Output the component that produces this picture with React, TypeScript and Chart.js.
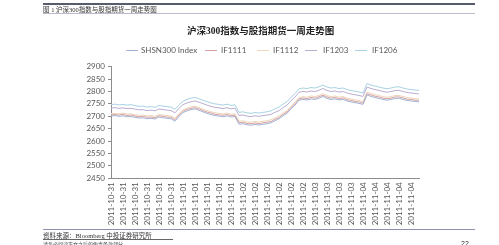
import React, { useEffect, useRef } from "react";
import { Chart, registerables } from "chart.js";

Chart.register(...registerables);

// tick labels (one every 3 points)
const tickDates = [
  "2011-10-31", "2011-10-31", "2011-10-31", "2011-10-31", "2011-10-31", "2011-10-31",
  "2011-11-01", "2011-11-01", "2011-11-01", "2011-11-01", "2011-11-01",
  "2011-11-02", "2011-11-02", "2011-11-02", "2011-11-02", "2011-11-02", "2011-11-02",
  "2011-11-03", "2011-11-03", "2011-11-03", "2011-11-03",
  "2011-11-04", "2011-11-04", "2011-11-04", "2011-11-04", "2011-11-04",
];
const pointsPerTick = 3;

const shsn300 = [
  2701, 2703, 2700, 2702, 2698, 2699, 2696, 2693, 2694, 2690, 2692, 2689, 2697, 2694, 2692, 2690,
  2680, 2700, 2715, 2722, 2727, 2730, 2724, 2718, 2712, 2707, 2703, 2701, 2698, 2702, 2697, 2699,
  2668, 2670, 2666, 2664, 2667, 2665, 2668, 2670, 2674, 2682, 2690, 2702, 2712, 2730, 2745, 2765,
  2768, 2766, 2770, 2768, 2773, 2780, 2772, 2768, 2770, 2766, 2768, 2762, 2758, 2755, 2752, 2748,
  2786, 2780, 2776, 2772, 2768, 2765, 2768, 2772, 2773, 2768, 2764, 2762, 2760, 2758,
];
const if1111 = [
  2706, 2707, 2705, 2708, 2703, 2705, 2701, 2698, 2700, 2696, 2697, 2694, 2702, 2700, 2697, 2696,
  2686, 2705, 2720, 2728, 2732, 2735, 2730, 2723, 2717, 2713, 2708, 2706, 2704, 2707, 2703, 2704,
  2674, 2676, 2671, 2670, 2673, 2670, 2674, 2676, 2679, 2688, 2695, 2708, 2717, 2736, 2750, 2770,
  2774, 2771, 2776, 2773, 2779, 2785, 2778, 2773, 2776, 2771, 2774, 2767, 2764, 2760, 2758, 2753,
  2791, 2786, 2781, 2778, 2773, 2771, 2773, 2778, 2778, 2774, 2769, 2768, 2765, 2764,
];
const if1112 = [
  2711, 2712, 2710, 2713, 2709, 2710, 2706, 2704, 2705, 2701, 2703, 2700, 2707, 2705, 2703, 2701,
  2692, 2711, 2726, 2733, 2738, 2741, 2735, 2729, 2723, 2718, 2714, 2712, 2709, 2713, 2708, 2710,
  2680, 2682, 2677, 2676, 2679, 2677, 2680, 2682, 2686, 2694, 2701, 2713, 2723, 2741, 2756, 2776,
  2779, 2777, 2782, 2779, 2785, 2791, 2784, 2779, 2782, 2777, 2780, 2773, 2770, 2766, 2764, 2759,
  2797, 2792, 2787, 2784, 2779, 2777, 2779, 2784, 2784, 2780, 2775, 2774, 2771, 2770,
];
const if1203 = [
  2733, 2735, 2732, 2734, 2731, 2732, 2729, 2726, 2727, 2723, 2725, 2722, 2730, 2727, 2725, 2723,
  2714, 2732, 2747, 2754, 2759, 2762, 2757, 2751, 2745, 2740, 2736, 2734, 2731, 2735, 2730, 2733,
  2703, 2705, 2701, 2699, 2702, 2700, 2703, 2705, 2708, 2716, 2723, 2735, 2745, 2763, 2778, 2797,
  2800, 2798, 2802, 2800, 2805, 2812, 2804, 2800, 2802, 2798, 2800, 2794, 2790, 2787, 2784, 2780,
  2818, 2812, 2808, 2804, 2800, 2797, 2800, 2804, 2805, 2800, 2796, 2794, 2792, 2790,
];
const if1206 = [
  2747, 2749, 2746, 2748, 2745, 2747, 2743, 2740, 2741, 2737, 2739, 2736, 2744, 2741, 2739, 2737,
  2728, 2746, 2761, 2768, 2773, 2776, 2771, 2765, 2759, 2754, 2750, 2748, 2745, 2749, 2744, 2746,
  2716, 2718, 2714, 2712, 2715, 2713, 2716, 2718, 2722, 2730, 2737, 2749, 2759, 2777, 2792, 2811,
  2814, 2812, 2816, 2814, 2819, 2826, 2818, 2814, 2816, 2812, 2814, 2808, 2804, 2801, 2798, 2794,
  2832, 2826, 2822, 2818, 2814, 2811, 2814, 2818, 2819, 2814, 2810, 2808, 2806, 2804,
];

const seriesNames = ["SHSN300 Index", "IF1111", "IF1112", "IF1203", "IF1206"];
const seriesColors = ["#a3b4d8", "#d6a4a2", "#ecd6bc", "#b9aed2", "#a9d2e3"];
const seriesData = [shsn300, if1111, if1112, if1203, if1206];

const yMin = 2450;
const yMax = 2900;
const yStep = 50;

const legendLineX = [126, 205, 257, 305, 355];
const legendTextX = [141, 221, 273, 323, 372];

export default function App() {
  const canvasRef = useRef<HTMLCanvasElement | null>(null);

  useEffect(() => {
    document.body.style.margin = "0";
    const canvas = canvasRef.current;
    if (!canvas) return;
    const labels = shsn300.map((_, i) =>
      i % pointsPerTick === 0 ? tickDates[i / pointsPerTick] || "" : ""
    );
    const chart = new Chart(canvas, {
      type: "line",
      data: {
        labels,
        datasets: seriesData.map((d, k) => ({
          label: seriesNames[k],
          data: d,
          borderColor: seriesColors[k],
          backgroundColor: seriesColors[k],
          borderWidth: 1,
          pointRadius: 0,
          tension: 0,
          fill: false,
        })),
      },
      options: {
        animation: false,
        responsive: false,
        maintainAspectRatio: false,
        layout: { padding: { left: 81, right: 80, top: 66.7, bottom: 6.7 } },
        plugins: {
          legend: { display: false },
          title: { display: false },
          tooltip: { enabled: false },
        },
        scales: {
          x: {
            type: "category",
            offset: false,
            grid: { display: false, drawTicks: false },
            border: { display: true, color: "#8c8c8c", width: 1 },
            ticks: {
              autoSkip: false,
              maxRotation: 90,
              minRotation: 90,
              padding: 4,
              color: "#595959",
              font: { family: "Lato, 'Liberation Sans', sans-serif", size: 8 },
            },
            afterFit: (scale: any) => {
              scale.height = 60;
            },
          },
          y: {
            min: yMin,
            max: yMax,
            grid: { drawOnChartArea: false, drawTicks: true, tickLength: 3, color: "#8c8c8c" },
            border: { display: true, color: "#8c8c8c", width: 1 },
            ticks: {
              stepSize: yStep,
              autoSkip: false,
              padding: 3,
              color: "#595959",
              font: { family: "Lato, 'Liberation Sans', sans-serif", size: 8 },
              callback: (v: any) => String(v),
            },
            afterFit: (scale: any) => {
              scale.width = 30;
            },
          },
        },
      },
    });
    return () => chart.destroy();
  }, []);

  const abs = (s: React.CSSProperties): React.CSSProperties => ({ position: "absolute", ...s });

  return (
    <div style={{ position: "relative", width: 499, height: 245, overflow: "hidden", background: "#fff" }}>
      <canvas ref={canvasRef} width={499} height={245} style={abs({ left: 0, top: 0, width: 499, height: 245 })} />
      <div style={abs({ left: 43, top: 3, width: 432, height: 2, background: "#585a6e" })} />
      <div
        style={abs({
          left: 43,
          top: 5.5,
          fontSize: 6.5,
          lineHeight: "7px",
          whiteSpace: "nowrap",
          color: "#333",
          fontFamily: "'Liberation Serif', 'Noto Sans CJK SC', serif",
        })}
      >
        图 1 沪深300指数与股指期货一周走势图
      </div>
      <div style={abs({ left: 43, top: 13, width: 432, height: 1, background: "#b9bccb" })} />
      <div
        style={abs({
          left: 187,
          top: 25,
          fontSize: 9.5,
          lineHeight: "12px",
          fontWeight: "bold",
          whiteSpace: "nowrap",
          color: "#222",
          fontFamily: "'Liberation Serif', 'Noto Sans CJK SC', serif",
        })}
      >
        沪深300指数与股指期货一周走势图
      </div>
      {seriesNames.map((n, k) => (
        <React.Fragment key={n}>
          <div style={abs({ left: legendLineX[k], top: 50, width: 12, height: 1, background: seriesColors[k] })} />
          <div
            style={abs({
              left: legendTextX[k],
              top: 45,
              fontSize: 8,
              lineHeight: "10px",
              whiteSpace: "nowrap",
              color: "#595959",
              fontFamily: "Lato, 'Liberation Sans', sans-serif",
            })}
          >
            {n}
          </div>
        </React.Fragment>
      ))}
      <div style={abs({ left: 43, top: 229, width: 432, height: 1, background: "#8e90b0" })} />
      <div
        style={abs({
          left: 43,
          top: 231.5,
          fontSize: 6.5,
          lineHeight: "7px",
          whiteSpace: "nowrap",
          color: "#333",
          fontFamily: "'Liberation Serif', 'Noto Sans CJK SC', serif",
        })}
      >
        资料来源：Bloomberg 中投证券研究所
      </div>
      <div style={abs({ left: 43, top: 239, width: 130, height: 1, background: "#666" })} />
      <div
        style={abs({
          left: 43,
          top: 240.5,
          fontSize: 5,
          lineHeight: "6px",
          whiteSpace: "nowrap",
          color: "#444",
          fontFamily: "'Noto Sans CJK SC', sans-serif",
        })}
      >
        请务必阅读正文之后的免责条款部分
      </div>
      <div
        style={abs({
          left: 461,
          top: 240,
          fontSize: 7,
          lineHeight: "8px",
          whiteSpace: "nowrap",
          color: "#333",
          fontFamily: "'Liberation Sans', sans-serif",
        })}
      >
        22
      </div>
    </div>
  );
}
